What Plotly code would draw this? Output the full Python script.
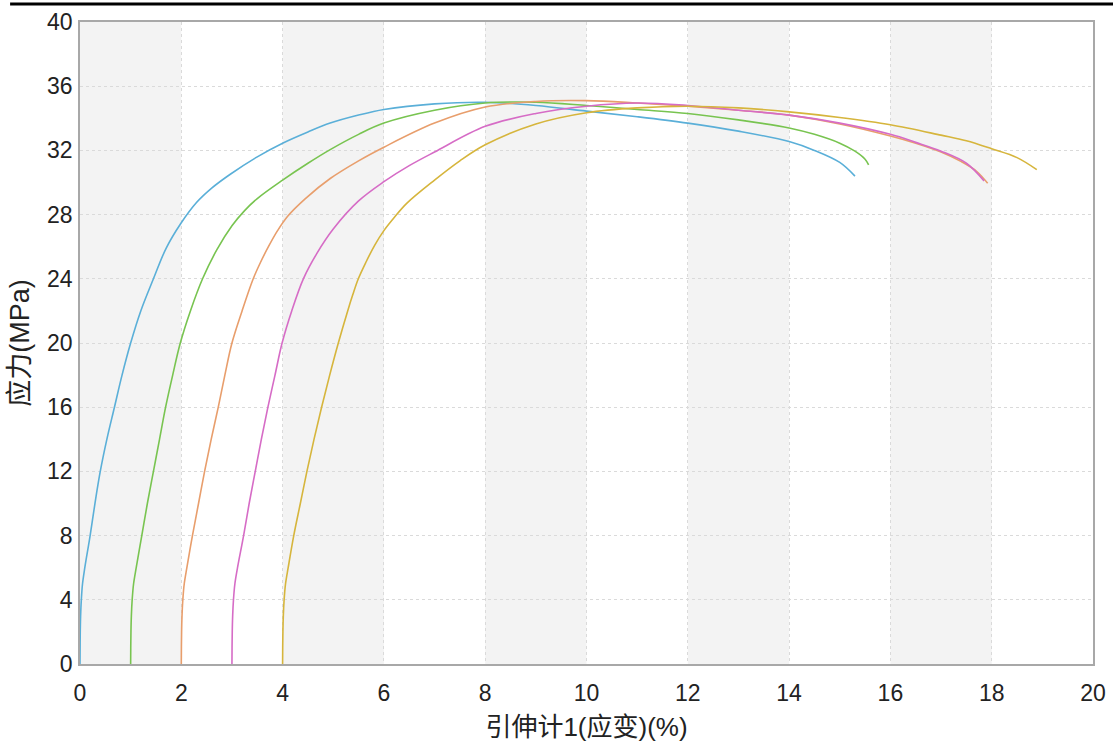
import plotly.graph_objects as go

# Stress-strain curves (extensometer strain %, stress MPa)
blue_x = [0, 0.002, 0.005, 0.012, 0.026, 0.05, 0.095, 0.2, 0.3, 0.4, 0.53, 0.68, 0.83, 1.0, 1.2, 1.45, 1.7, 1.98, 2.3, 2.6, 2.96, 3.5, 4.0, 4.5, 4.94, 5.5, 6.0, 7.0, 8.0, 9.0, 10.0, 11.0, 12.0, 13.0, 14.0, 14.5, 15.0, 15.3]
blue_y = [0, 1, 2, 3, 4, 5, 6, 8, 10.1, 12, 14, 16, 18, 20, 22, 24, 25.9, 27.4, 28.75, 29.65, 30.5, 31.6, 32.45, 33.15, 33.7, 34.2, 34.55, 34.9, 35.0, 34.8, 34.45, 34.1, 33.7, 33.2, 32.55, 32.0, 31.25, 30.4]

green_x = [1, 1.002, 1.006, 1.014, 1.03, 1.058, 1.11, 1.22, 1.33, 1.45, 1.57, 1.69, 1.83, 1.98, 2.18, 2.42, 2.7, 3.0, 3.25, 3.5, 4.0, 4.5, 4.94, 5.5, 6.0, 7.0, 8.0, 9.0, 10.0, 11.0, 12.0, 13.0, 14.0, 14.5, 15.0, 15.3, 15.5, 15.57]
green_y = [0, 1, 2, 3, 4, 5, 6, 8, 10, 12, 14, 16, 18, 20, 22, 24, 25.8, 27.3, 28.25, 29.0, 30.15, 31.2, 32.05, 33.0, 33.7, 34.5, 34.95, 35.0, 34.8, 34.55, 34.3, 33.9, 33.4, 33.0, 32.45, 31.95, 31.45, 31.1]

orange_x = [2, 2.002, 2.006, 2.014, 2.03, 2.058, 2.11, 2.22, 2.34, 2.46, 2.59, 2.73, 2.86, 3.0, 3.2, 3.42, 3.56, 3.72, 3.9, 4.1, 4.45, 4.94, 5.5, 6.0, 7.0, 8.0, 9.0, 10.0, 11.0, 12.0, 13.0, 14.0, 15.0, 16.0, 16.5, 17.0, 17.4, 17.7, 17.92]
orange_y = [0, 1, 2, 3, 4, 5, 6, 8, 10, 12, 14, 16, 18, 20, 22, 24, 25, 26, 27, 27.9, 29.0, 30.25, 31.35, 32.2, 33.7, 34.7, 35.05, 35.1, 34.95, 34.75, 34.5, 34.2, 33.65, 32.9, 32.45, 31.9, 31.3, 30.7, 29.95]

magenta_x = [3, 3.002, 3.006, 3.014, 3.03, 3.058, 3.11, 3.23, 3.34, 3.46, 3.58, 3.71, 3.85, 3.99, 4.18, 4.41, 4.68, 5.0, 5.5, 6.0, 6.5, 7.0, 8.0, 9.0, 10.0, 11.0, 12.0, 13.0, 14.0, 15.0, 16.0, 16.5, 17.0, 17.5, 17.85]
magenta_y = [0, 1, 2, 3, 4, 5, 6, 8, 10, 12, 14, 16, 18, 20, 22, 24, 25.6, 27.1, 28.85, 30.05, 31.05, 31.9, 33.5, 34.3, 34.75, 34.95, 34.8, 34.5, 34.2, 33.7, 33.0, 32.5, 31.95, 31.2, 30.1]

yellow_x = [4, 4.002, 4.006, 4.014, 4.03, 4.058, 4.11, 4.22, 4.35, 4.48, 4.62, 4.77, 4.93, 5.1, 5.285, 5.385, 5.495, 5.64, 5.82, 6.0, 6.2, 6.45, 7.0, 7.5, 8.0, 9.0, 10.0, 11.0, 12.0, 13.0, 14.0, 15.0, 16.0, 17.0, 17.5, 18.0, 18.5, 18.89]
yellow_y = [0, 1, 2, 3, 4, 5, 6, 8, 10, 12, 14, 16, 18, 20, 22, 23, 24, 25, 26.1, 27.0, 27.8, 28.7, 30.15, 31.35, 32.35, 33.65, 34.35, 34.65, 34.75, 34.65, 34.4, 34.05, 33.6, 32.95, 32.6, 32.1, 31.55, 30.8]

x_ticks = list(range(0, 21, 2))
y_ticks = list(range(0, 41, 4))
x_title = "引伸计1(应变)(%)"
y_title = "应力(MPa)"

series = [
    (blue_x, blue_y, "#5aafd8"),
    (green_x, green_y, "#78c450"),
    (orange_x, orange_y, "#e89e6c"),
    (magenta_x, magenta_y, "#d66cc6"),
    (yellow_x, yellow_y, "#d6b53c"),
]

fig = go.Figure()
for xs, ys, c in series:
    fig.add_trace(go.Scatter(x=xs, y=ys, mode="lines",
                             line=dict(color=c, width=1.6, shape="spline", smoothing=1.0),
                             showlegend=False, hoverinfo="skip"))

shapes = []
# alternating background bands
for i in range(0, len(x_ticks) - 1, 2):
    shapes.append(dict(type="rect", xref="x", yref="paper",
                       x0=x_ticks[i], x1=x_ticks[i + 1], y0=0, y1=1,
                       fillcolor="#f3f3f3", line=dict(width=0), layer="below"))
# top black rule
shapes.append(dict(type="line", xref="paper", yref="paper",
                   x0=-0.069, x1=1.03, y0=1.028, y1=1.028,
                   line=dict(color="#000000", width=3)))

fig.update_layout(
    width=1113, height=742,
    margin=dict(l=80, r=20, t=22, b=78),
    paper_bgcolor="white", plot_bgcolor="white",
    font=dict(family="Liberation Sans, Arial, Noto Sans CJK SC", size=23, color="#222222"),
    shapes=shapes,
    xaxis=dict(range=[0, 20], tickvals=x_ticks, showgrid=True, automargin=False,
               gridcolor="#dadada", griddash="dot", gridwidth=1,
               showline=True, linecolor="#a8a8a8", linewidth=1.5, mirror=True,
               ticks="outside", ticklen=8, tickcolor="rgba(0,0,0,0)",
               zeroline=False,
               title=dict(text=x_title, font=dict(size=26, family="Liberation Sans, Noto Sans CJK SC"), standoff=12)),
    yaxis=dict(range=[0, 40], tickvals=y_ticks, showgrid=True, automargin=False,
               gridcolor="#dadada", griddash="dot", gridwidth=1,
               showline=True, linecolor="#a8a8a8", linewidth=1.5, mirror=True,
               ticks="outside", ticklen=1, tickcolor="rgba(0,0,0,0)",
               zeroline=False,
               title=dict(text=y_title, font=dict(size=27, family="Liberation Sans, Noto Sans CJK SC"), standoff=10)),
)

fig.write_html("out.html")
